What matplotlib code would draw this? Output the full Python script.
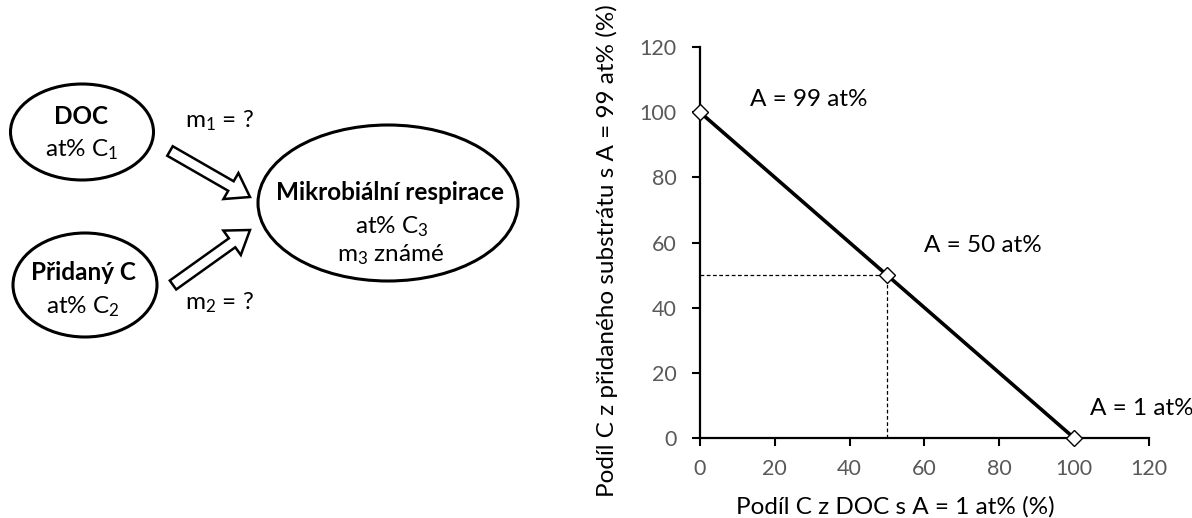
import matplotlib
matplotlib.use("Agg")
import matplotlib.pyplot as plt
from matplotlib.patches import Ellipse

plt.rcParams["font.family"] = ["Lato", "DejaVu Sans"]
plt.rcParams["mathtext.fontset"] = "custom"
plt.rcParams["mathtext.rm"] = "Lato"
plt.rcParams["mathtext.it"] = "Lato"
plt.rcParams["mathtext.bf"] = "Lato:bold"
plt.rcParams["mathtext.default"] = "regular"

# Mixing line: share of C from DOC vs share from added substrate
doc_share = [0, 50, 100]
added_share = [100, 50, 0]
point_labels = ["A = 99 at%", "A = 50 at%", "A = 1 at%"]
label_pos = [(13.3, 104), (60, 59), (104.3, 9)]
ticks = [0, 20, 40, 60, 80, 100, 120]

fig = plt.figure(figsize=(11.92, 5.18), dpi=100)

# left: scheme drawn in pixel coordinates
sk = fig.add_axes([0, 0, 1, 1])
sk.set_xlim(0, 1192)
sk.set_ylim(518, 0)
sk.axis("off")

for cx, cy, w, h in [(82, 132, 143, 96), (85, 285, 144, 104), (388, 203, 260, 156)]:
    sk.add_patch(Ellipse((cx, cy), w, h, facecolor="white", edgecolor="black", lw=2.2))

fs = 17.5
sk.text(81, 116, "DOC", ha="center", va="center", fontsize=fs, fontweight="bold")
sk.text(82, 150, "at% C$_1$", ha="center", va="center", fontsize=fs)
sk.text(83, 273, "Přidaný C", ha="center", va="center", fontsize=fs, fontweight="bold")
sk.text(83, 307, "at% C$_2$", ha="center", va="center", fontsize=fs)
sk.text(390, 193, "Mikrobiální respirace", ha="center", va="center", fontsize=fs, fontweight="bold")
sk.text(392, 227, "at% C$_3$", ha="center", va="center", fontsize=fs)
sk.text(391, 255, "m$_3$ známé", ha="center", va="center", fontsize=fs)
sk.text(185, 121, "m$_1$ = ?", ha="left", va="center", fontsize=fs)
sk.text(185, 303, "m$_2$ = ?", ha="left", va="center", fontsize=fs)

arrow_kw = dict(width=11, head_width=30, head_length=22, length_includes_head=True,
                facecolor="white", edgecolor="black", lw=1.8)
sk.arrow(170, 151, 80, 46, **arrow_kw)
sk.arrow(173, 285, 77, -55, **arrow_kw)

# right: the mixing chart
ax = fig.add_axes([0.5872, 0.1544, 0.3767, 0.7548])
ax.plot([0, 50], [50, 50], color="black", lw=0.9, ls=(0, (3, 2)), zorder=2)
ax.plot([50, 50], [0, 50], color="black", lw=0.9, ls=(0, (3, 2)), zorder=2)
ax.plot(doc_share, added_share, color="black", lw=2.6, marker="D", ms=8,
        mfc="white", mec="black", mew=1.0, zorder=3, clip_on=False)
for text, (tx, ty) in zip(point_labels, label_pos):
    ax.text(tx, ty, text, ha="left", va="center", fontsize=fs)

ax.set_xlim(0, 120)
ax.set_ylim(0, 120)
ax.set_xticks(ticks)
ax.set_yticks(ticks)
for side in ["top", "right"]:
    ax.spines[side].set_visible(False)
for side in ["left", "bottom"]:
    ax.spines[side].set_linewidth(1.6)
ax.tick_params(axis="both", direction="out", length=6, width=1.5,
               labelsize=15.5, labelcolor="#595959")
ax.tick_params(axis="x", pad=9)
ax.tick_params(axis="y", pad=11)

ax.set_xlabel("Podíl C z DOC s A = 1 at% (%)", fontsize=fs, va="center")
ax.xaxis.set_label_coords(0.434, -0.176)
ax.set_ylabel("Podíl C z přidaného substrátu s A = 99 at% (%)", fontsize=fs, va="center")
ax.yaxis.set_label_coords(-0.207, 0.48)

fig.savefig("out.png", dpi=100)
